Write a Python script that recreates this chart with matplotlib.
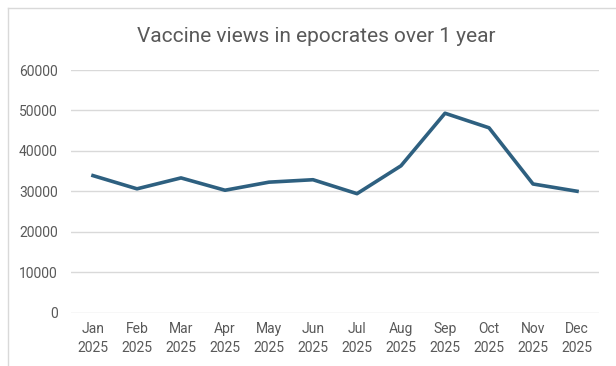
import matplotlib.pyplot as plt
from matplotlib.lines import Line2D

## Data ---------------------------------------------

months = ["Jan", "Feb", "Mar", "Apr", "May", "Jun",
          "Jul", "Aug", "Sep", "Oct", "Nov", "Dec"]
year = "2025"
views = [33870, 30600, 33300, 30250, 32250, 32850,
         29400, 36300, 49300, 45700, 31800, 30000]

title = "Vaccine views in epocrates over 1 year"

## Figure -------------------------------------------

plt.rcParams['font.family'] = ['Roboto', 'DejaVu Sans']
text_color = "#595959"
grid_color = "#d9d9d9"
line_color = "#2e6080"

fig = plt.figure(figsize=(6.16, 3.66), dpi=100)
ax = fig.add_axes([71 / 616, 1 - 312.5 / 366, (599 - 71) / 616, (312.5 - 70) / 366])

x = list(range(len(months)))
ax.plot(x, views, color=line_color, linewidth=2.6, solid_joinstyle='round')

ax.set_xlim(-0.5, len(months) - 0.5)
ax.set_ylim(0, 60000)
ax.set_yticks(range(0, 60001, 10000))
ax.set_xticks(x)
ax.set_xticklabels([f"{m}\n{year}" for m in months], linespacing=1.45)

ax.grid(axis='y', color=grid_color, linewidth=1)
ax.set_axisbelow(True)
for s in ax.spines.values():
    s.set_visible(False)
ax.tick_params(axis='both', length=0, labelsize=10, colors=text_color)
ax.tick_params(axis='y', pad=9.5)
ax.tick_params(axis='x', pad=7)

fig.text(316 / 616, 1 - 37 / 366, title, ha='center', va='center',
         fontsize=15, color=text_color)

# chart area border (left and top edges visible)
fig.add_artist(Line2D([8 / 616, 8 / 616], [0, 1 - 8 / 366], color=grid_color, linewidth=1))
fig.add_artist(Line2D([8 / 616, 1], [1 - 8 / 366, 1 - 8 / 366], color=grid_color, linewidth=1))

fig.savefig("out.png", dpi=100)
